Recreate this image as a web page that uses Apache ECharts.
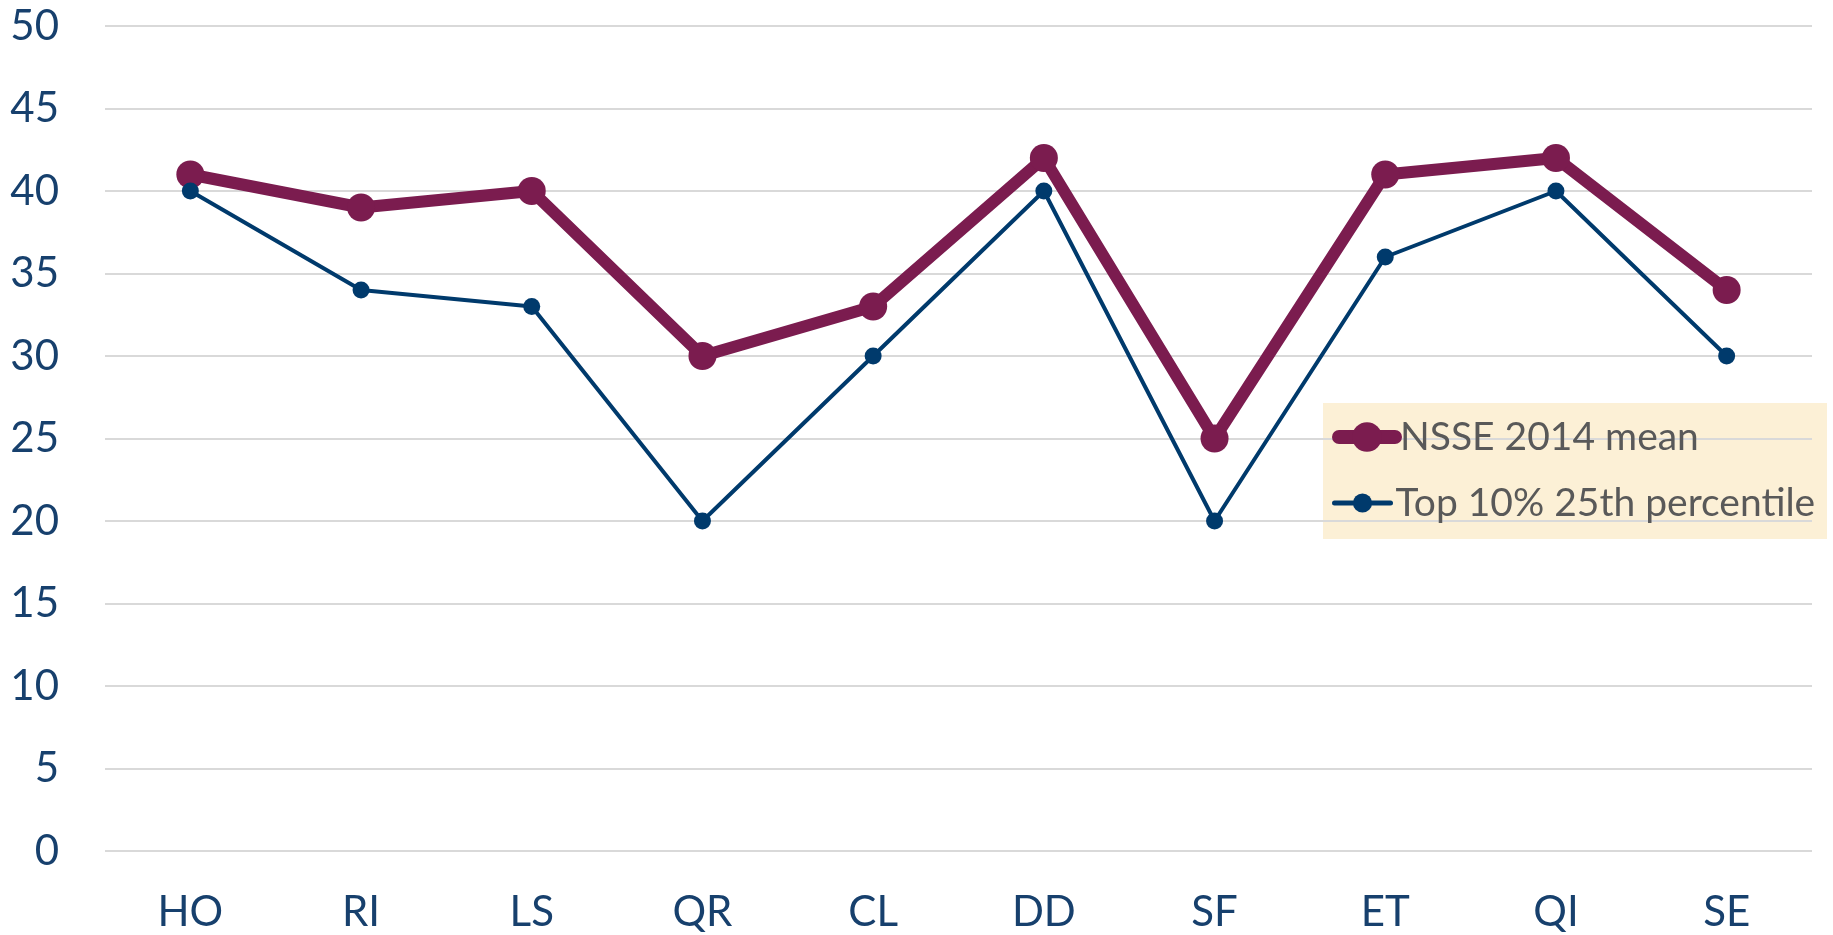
<!DOCTYPE html>
<html><head><meta charset="utf-8">
<script src="https://cdn.jsdelivr.net/npm/echarts@6/dist/echarts.min.js"></script>
<style>html,body{margin:0;padding:0;background:#fff}#c{width:1833px;height:935px}</style>
</head><body><div id="c"></div>
<script>
const categories = ['HO','RI','LS','QR','CL','DD','SF','ET','QI','SE'];
const nsseMean = [41,39,40,30,33,42,25,41,42,34];
const top10p25 = [40,34,33,20,30,40,20,36,40,30];
const seriesNames = ['NSSE 2014 mean','Top 10% 25th percentile'];

const FONT = 'Lato';
const legendText = {fontFamily: FONT, fontSize: 39, color: '#595959', lineHeight: 40};
const chart = echarts.init(document.getElementById('c'));
chart.setOption({
  animation: false,
  grid: {left: 105, right: 21, top: 26, bottom: 84},
  graphic: [{type: 'rect', left: 1323, top: 403, shape: {width: 504, height: 136},
             style: {fill: '#FCF0D6'}, z: -1}],
  legend: [
    {orient: 'vertical', left: 1332, top: 417, padding: 0,
     itemWidth: 56, itemHeight: 37, textStyle: legendText,
     lineStyle: {width: 14, cap: 'round'}, data: [seriesNames[0]]},
    {orient: 'vertical', left: 1332, top: 483, padding: 0,
     itemWidth: 56, itemHeight: 24, textStyle: legendText,
     lineStyle: {width: 5, cap: 'round'}, data: [seriesNames[1]]}
  ],
  xAxis: {
    type: 'category', data: categories, boundaryGap: true,
    axisLine: {show: false}, axisTick: {show: false},
    axisLabel: {fontFamily: FONT, fontSize: 42, color: '#17406D', margin: 40}
  },
  yAxis: {
    type: 'value', min: 0, max: 50, interval: 5,
    axisLine: {show: false}, axisTick: {show: false},
    splitLine: {lineStyle: {color: '#D9D9D9', width: 2}},
    axisLabel: {fontFamily: FONT, fontSize: 42, color: '#17406D', margin: 46}
  },
  series: [
    {name: seriesNames[0], type: 'line', data: nsseMean, symbol: 'circle', symbolSize: 28,
     lineStyle: {color: '#7B1C4F', width: 12}, itemStyle: {color: '#7B1C4F'}},
    {name: seriesNames[1], type: 'line', data: top10p25, symbol: 'circle', symbolSize: 17,
     lineStyle: {color: '#003A6C', width: 4}, itemStyle: {color: '#003A6C'}}
  ]
});
</script></body></html>
